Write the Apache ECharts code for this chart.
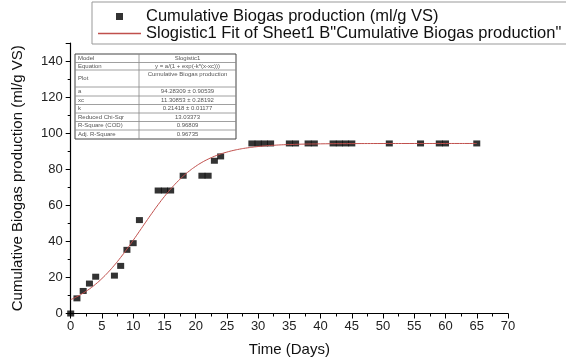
<!DOCTYPE html>
<html>
<head>
<meta charset="utf-8">
<script src="https://cdn.jsdelivr.net/npm/echarts@6/dist/echarts.min.js"></script>
<style>
  html, body { margin: 0; padding: 0; background: #fff; }
  #chart { width: 566px; height: 363px; }
</style>
</head>
<body>
<div id="chart"></div>
<script>
// Measured cumulative biogas yield (ml/g VS) by day
const days = [0, 1, 2, 3, 4, 7, 8, 9, 10, 11, 14, 15, 16, 18, 21, 22, 23, 24,
              29, 30, 31, 32, 35, 36, 38, 39, 42, 43, 44, 45, 51, 56, 59, 60, 65];
const biogas = [0, 8.4, 12.5, 16.6, 20.4, 21.0, 26.4, 35.3, 39.0, 51.8, 68.2, 68.2, 68.2, 76.4, 76.4, 76.4, 84.7, 87.1,
                94.3, 94.3, 94.3, 94.3, 94.3, 94.3, 94.3, 94.3, 94.3, 94.3, 94.3, 94.3, 94.3, 94.3, 94.3, 94.3, 94.3];

// Logistic fit curve sampled along the time axis
const fitDays = [0, 1, 2, 3, 4, 5, 6, 7, 8, 9, 10, 11, 12, 13, 14, 15, 16, 17, 18, 19, 20,
                 21, 22, 23, 24, 25, 26, 27, 28, 30, 32, 35, 40, 45, 50, 55, 60, 65];
const fitValues = [7.68, 9.34, 11.30, 13.61, 16.30, 19.39, 22.90, 26.81, 31.11, 35.71, 40.58,
                   45.58, 50.63, 55.59, 60.37, 64.86, 69.02, 72.78, 76.13, 79.06, 81.60,
                   83.78, 85.61, 87.16, 88.45, 89.51, 90.40, 91.12, 91.71, 92.59, 93.17,
                   93.70, 94.08, 94.21, 94.26, 94.27, 94.28, 94.28];

// Fit report table
const reportLabels = ['Model', 'Equation', 'Plot', 'a', 'xc', 'k', 'Reduced Chi-Sqr', 'R-Square (COD)', 'Adj. R-Square'];
const reportValues = ['Slogistic1', 'y = a/(1 + exp(-k*(x-xc)))', 'Cumulative Biogas production',
                      '94.28309 \u00b1 0.90539', '11.30853 \u00b1 0.28192', '0.21418 \u00b1 0.01177',
                      '13.03373', '0.96809', '0.96735'];

const seriesNames = ['Cumulative Biogas production (ml/g VS)',
                     'Slogistic1 Fit of Sheet1 B"Cumulative Biogas production"'];

const FONT = '"Liberation Sans", Arial, sans-serif';

// Table geometry
const tbl = { x: 75, y: 54, w: 161, split: 139 };
const rowEdges = [54, 62.5, 70, 87, 96, 104.5, 113, 121.5, 130, 139];

function buildTable() {
  const children = [];
  children.push({
    type: 'rect',
    shape: { x: tbl.x, y: tbl.y, width: tbl.w, height: rowEdges[rowEdges.length - 1] - tbl.y },
    style: { fill: '#fff', stroke: '#444', lineWidth: 1 }
  });
  children.push({
    type: 'line',
    shape: { x1: tbl.split, y1: tbl.y, x2: tbl.split, y2: rowEdges[rowEdges.length - 1] },
    style: { stroke: '#888', lineWidth: 0.8 }
  });
  for (let i = 1; i < rowEdges.length - 1; i++) {
    children.push({
      type: 'line',
      shape: { x1: tbl.x, y1: rowEdges[i], x2: tbl.x + tbl.w, y2: rowEdges[i] },
      style: { stroke: '#888', lineWidth: 0.8 }
    });
  }
  reportLabels.forEach((lab, i) => {
    const top = rowEdges[i], bot = rowEdges[i + 1];
    const isPlot = lab === 'Plot';
    children.push({
      type: 'text',
      style: {
        x: tbl.x + 3, y: (top + bot) / 2, text: lab,
        font: '6px ' + FONT, fill: '#555', verticalAlign: 'middle', align: 'left'
      }
    });
    children.push({
      type: 'text',
      style: {
        x: (tbl.split + tbl.x + tbl.w) / 2, y: isPlot ? top + 4 : (top + bot) / 2, text: reportValues[i],
        font: '6px ' + FONT, fill: '#555', verticalAlign: 'middle', align: 'center'
      }
    });
  });
  return { type: 'group', children: children };
}

const chart = echarts.init(document.getElementById('chart'), null, { renderer: 'canvas' });

chart.setOption({
  backgroundColor: '#fff',
  animation: false,
  textStyle: { fontFamily: FONT },
  grid: { left: 70.7, right: 58, top: 43, bottom: 49.5, containLabel: false },
  legend: {
    orient: 'vertical',
    left: 92,
    top: 2,
    padding: [6, 20, 2, 6],
    itemGap: 0,
    itemWidth: 43,
    itemHeight: 7,
    symbolKeepAspect: true,
    borderColor: '#999',
    borderWidth: 1,
    backgroundColor: '#fff',
    textStyle: { fontSize: 16.5, color: '#111', fontFamily: FONT },
    data: [
      { name: seriesNames[0], icon: 'path://M0,0h10v10h-10z' },
      { name: seriesNames[1], icon: 'path://M0,0h40v1.2h-40z' }
    ]
  },
  xAxis: {
    type: 'value',
    min: 0,
    max: 70,
    interval: 5,
    name: 'Time (Days)',
    nameLocation: 'middle',
    nameGap: 29,
    nameTextStyle: { fontSize: 15, color: '#111' },
    axisLine: { onZero: false, lineStyle: { color: '#000', width: 1.2 } },
    axisTick: { show: true, inside: false, length: 5, lineStyle: { color: '#000' } },
    minorTick: { show: true, splitNumber: 2, length: 3, lineStyle: { color: '#000' } },
    axisLabel: { fontSize: 13, color: '#222', margin: 6 },
    splitLine: { show: false }
  },
  yAxis: {
    type: 'value',
    min: 0,
    max: 150,
    interval: 20,
    name: 'Cumulative Biogas production (ml/g VS)',
    nameLocation: 'middle',
    nameGap: 45,
    nameTextStyle: { fontSize: 15, color: '#111' },
    axisLine: { show: true, onZero: false, lineStyle: { color: '#000', width: 1.2 } },
    axisTick: { show: true, inside: false, length: 5, lineStyle: { color: '#000' } },
    minorTick: { show: true, splitNumber: 2, length: 3, lineStyle: { color: '#000' } },
    axisLabel: { fontSize: 13, color: '#222', margin: 8, showMaxLabel: false },
    splitLine: { show: false }
  },
  series: [
    {
      name: seriesNames[0],
      type: 'scatter',
      symbol: 'rect',
      symbolSize: [7, 6],
      itemStyle: { color: '#000' },
      z: 3,
      data: days.map((d, i) => [d, biogas[i]])
    },
    {
      name: seriesNames[1],
      type: 'line',
      showSymbol: false,
      symbol: 'none',
      smooth: true,
      lineStyle: { color: '#c0504d', width: 1 },
      itemStyle: { color: '#c0504d' },
      z: 4,
      data: fitDays.map((d, i) => [d, fitValues[i]])
    }
  ],
  graphic: [buildTable()]
});
</script>
</body>
</html>
